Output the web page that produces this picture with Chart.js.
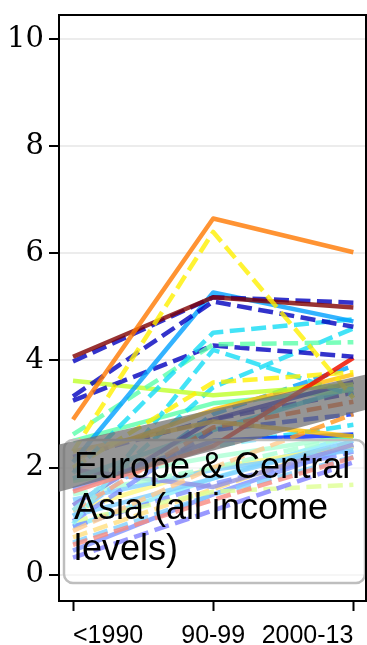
<!DOCTYPE html>
<html>
<head>
<meta charset="utf-8">
<script src="https://cdn.jsdelivr.net/npm/chart.js@4.4.1/dist/chart.umd.min.js"></script>
<style>
  html, body { margin: 0; padding: 0; background: #ffffff; }
  canvas { display: block; }
</style>
</head>
<body>
<canvas id="chart" width="367" height="645"></canvas>
<script>
// Periods on the horizontal axis
const categories = ['<1990', '90-99', '2000-13'];
const yTicks = [0, 2, 4, 6, 8, 10];

// One value per period for each country line
const seriesValues = [
  [2.90, 6.65, 6.02],
  [2.30, 6.40, 3.30],
  [4.07, 5.18, 4.99],
  [3.98, 5.18, 5.08],
  [3.33, 5.10, 4.63],
  [2.10, 5.27, 4.73],
  [1.90, 4.52, 4.77],
  [2.62, 4.30, 4.34],
  [3.25, 4.28, 4.07],
  [1.55, 2.40, 4.05],
  [2.00, 3.59, 3.78],
  [3.62, 3.35, 3.55],
  [2.15, 3.08, 3.74],
  [2.30, 2.86, 2.58],
  [0.95, 4.20, 3.35],
  [1.20, 3.50, 4.60],
  [1.20, 2.75, 3.23],
  [0.82, 2.00, 3.00],
  [1.60, 2.50, 2.62],
  [1.00, 2.70, 3.00],
  [1.30, 2.90, 3.60],
  [2.50, 3.20, 3.45],
  [1.80, 2.70, 3.50],
  [1.10, 3.00, 3.90],
  [1.50, 2.00, 2.60],
  [0.32, 1.20, 2.10],
  [0.56, 1.40, 2.19],
  [1.00, 1.55, 1.68],
  [1.96, 1.64, 2.43],
  [1.40, 1.96, 2.33],
  [1.10, 1.80, 2.50],
  [1.80, 2.40, 2.80],
  [0.70, 1.60, 2.50],
  [1.75, 2.20, 2.60],
  [0.90, 1.70, 2.30],
  [0.60, 1.50, 2.20],
  [1.20, 2.00, 2.40],
  [0.90, 1.80, 2.60],
  [0.45, 1.50, 2.40],
  [2.20, 2.90, 3.40]
];

const seriesColors = [
  'rgba(255,120,0,0.8)',
  'rgba(255,240,0,0.8)',
  'rgba(128,0,0,0.8)',
  'rgba(0,0,190,0.8)',
  'rgba(0,0,190,0.8)',
  'rgba(0,160,255,0.8)',
  'rgba(20,220,245,0.8)',
  'rgba(90,255,170,0.8)',
  'rgba(0,0,190,0.8)',
  'rgba(240,20,0,0.85)',
  'rgba(255,240,0,0.8)',
  'rgba(190,255,40,0.8)',
  'rgba(255,190,0,0.8)',
  'rgba(255,190,0,0.8)',
  'rgba(20,220,245,0.8)',
  'rgba(20,220,245,0.8)',
  'rgba(255,80,0,0.8)',
  'rgba(255,150,30,0.8)',
  'rgba(0,40,255,0.8)',
  'rgba(0,40,255,0.8)',
  'rgba(0,0,190,0.8)',
  'rgba(90,255,170,0.8)',
  'rgba(20,220,245,0.8)',
  'rgba(0,160,255,0.8)',
  'rgba(90,255,170,0.8)',
  'rgba(0,0,255,0.8)',
  'rgba(240,20,0,0.8)',
  'rgba(190,255,40,0.8)',
  'rgba(40,40,200,0.8)',
  'rgba(0,160,255,0.8)',
  'rgba(0,160,255,0.8)',
  'rgba(20,220,245,0.8)',
  'rgba(255,190,0,0.8)',
  'rgba(90,255,170,0.8)',
  'rgba(0,40,255,0.8)',
  'rgba(0,160,255,0.8)',
  'rgba(255,240,0,0.8)',
  'rgba(20,220,245,0.8)',
  'rgba(0,40,255,0.8)',
  'rgba(0,0,190,0.8)'
];

const seriesDashed = [
  false, true, false, true, true, false, true, true, true, false,
  true, false, false, false, true, true, true, true, false, true,
  false, false, false, true, true, true, true, true, false, false,
  false, true, true, false, true, true, false, false, false, true
];

// Shaded trend band (lower / upper edge at the two ends of the axis)
const bandX = [-0.1, 2.09];
const bandLower = [1.55, 3.08];
const bandUpper = [2.43, 3.74];

const legendLines = ['Europe & Central', 'Asia (all income', 'levels)'];

const datasets = seriesValues.map((vals, i) => ({
  data: vals.map((v, k) => ({ x: k, y: v })),
  borderColor: seriesColors[i],
  borderWidth: 4.5,
  borderDash: seriesDashed[i] ? [15, 6.5] : [],
  borderCapStyle: 'butt',
  borderJoinStyle: 'round',
  pointRadius: 0,
  fill: false,
  tension: 0
}));

const overlayPlugin = {
  id: 'overlay',
  afterDatasetsDraw(chart) {
    const { ctx, chartArea, scales } = chart;
    const xs = scales.x, ys = scales.y;
    ctx.save();
    ctx.beginPath();
    ctx.rect(chartArea.left, chartArea.top, chartArea.right - chartArea.left, chartArea.bottom - chartArea.top);
    ctx.clip();

    // legend frame
    const bx = chartArea.left + 5, by = 440, bw = chartArea.right - chartArea.left - 6, bh = 143;
    ctx.beginPath();
    ctx.roundRect(bx, by, bw, bh, 9);
    ctx.fillStyle = 'rgba(255,255,255,0.5)';
    ctx.fill();
    ctx.lineWidth = 2.5;
    ctx.strokeStyle = 'rgba(190,190,190,1)';
    ctx.stroke();

    // trend band
    ctx.beginPath();
    ctx.moveTo(xs.getPixelForValue(bandX[0]), ys.getPixelForValue(bandUpper[0]));
    ctx.lineTo(xs.getPixelForValue(bandX[1]), ys.getPixelForValue(bandUpper[1]));
    ctx.lineTo(xs.getPixelForValue(bandX[1]), ys.getPixelForValue(bandLower[1]));
    ctx.lineTo(xs.getPixelForValue(bandX[0]), ys.getPixelForValue(bandLower[0]));
    ctx.closePath();
    ctx.fillStyle = 'rgba(110,110,110,0.72)';
    ctx.fill();

    // legend text
    ctx.fillStyle = '#000';
    ctx.font = '36px "Liberation Sans", sans-serif';
    ctx.textBaseline = 'alphabetic';
    ctx.textAlign = 'left';
    legendLines.forEach((t, i) => ctx.fillText(t, bx + 10, 478 + i * 41));
    ctx.restore();

    // top and right frame
    ctx.save();
    ctx.strokeStyle = '#000';
    ctx.lineWidth = 2;
    ctx.beginPath();
    ctx.moveTo(chartArea.left, chartArea.top);
    ctx.lineTo(chartArea.right, chartArea.top);
    ctx.lineTo(chartArea.right, chartArea.bottom);
    ctx.stroke();
    ctx.restore();
  }
};

new Chart(document.getElementById('chart'), {
  type: 'line',
  data: { datasets },
  options: {
    responsive: false,
    animation: false,
    devicePixelRatio: 1,
    layout: { padding: { top: 15, right: 1, left: 0, bottom: 0 } },
    plugins: { legend: { display: false }, tooltip: { enabled: false } },
    scales: {
      x: {
        type: 'linear',
        min: -0.1,
        max: 2.09,
        afterBuildTicks(scale) { scale.ticks = categories.map((_, i) => ({ value: i })); },
        afterFit(scale) {
          scale.height = 44;
          scale.paddingLeft = 0; scale.paddingRight = 0;
        },
        ticks: {
          callback: (v) => categories[v],
          align: 'inner',
          color: '#000',
          font: { family: '"Liberation Sans", sans-serif', size: 25 },
          padding: 10,
          maxRotation: 0,
          autoSkip: false
        },
        grid: { drawOnChartArea: false, tickLength: 10, tickColor: '#000', tickWidth: 2 },
        border: { color: '#000', width: 2 }
      },
      y: {
        min: -0.49,
        max: 10.45,
        afterBuildTicks(scale) { scale.ticks = yTicks.map(v => ({ value: v })); },
        afterFit(scale) {
          scale.width = 59;
          scale.paddingTop = 0; scale.paddingBottom = 0;
        },
        ticks: {
          color: '#000',
          font: { family: '"DejaVu Serif", serif', size: 29 },
          padding: 5
        },
        grid: { color: '#ececec', lineWidth: 2, tickLength: 10, tickColor: '#000', tickWidth: 2 },
        border: { color: '#000', width: 2 }
      }
    }
  },
  plugins: [overlayPlugin]
});
</script>
</body>
</html>
